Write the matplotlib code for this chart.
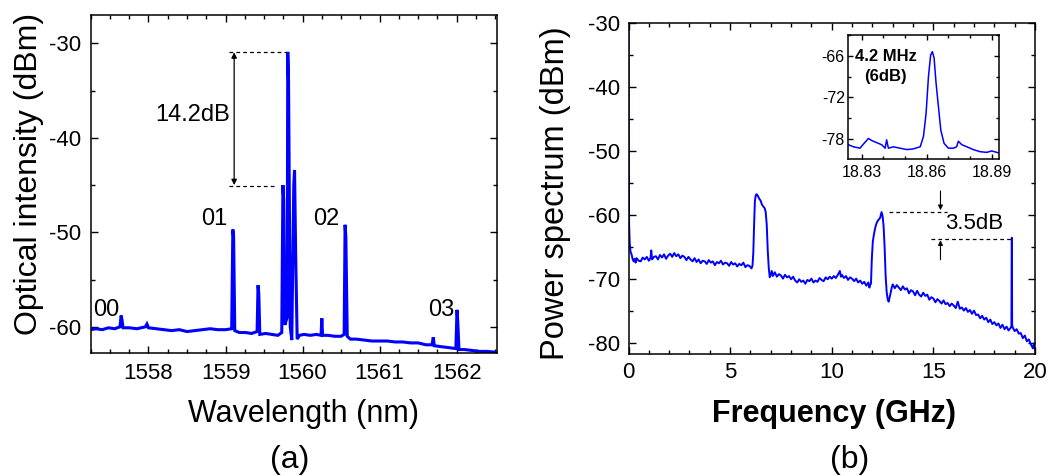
import matplotlib
matplotlib.use("Agg")
import matplotlib.pyplot as plt
from matplotlib.ticker import MultipleLocator

plt.rcParams['font.family'] = ['Liberation Sans', 'DejaVu Sans']
plt.rcParams['axes.unicode_minus'] = False

# ---------------- Panel (a): optical spectrum ----------------
wavelength_nm = [1557.25, 1557.32, 1557.40, 1557.48, 1557.56, 1557.63, 1557.645, 1557.655, 1557.67,
                 1557.75, 1557.85, 1557.96, 1557.98, 1558.00, 1558.10, 1558.20, 1558.30, 1558.40,
                 1558.50, 1558.60, 1558.70, 1558.80, 1558.90, 1559.00, 1559.08, 1559.095, 1559.105,
                 1559.12, 1559.18, 1559.26, 1559.34, 1559.41, 1559.422, 1559.432, 1559.445, 1559.52,
                 1559.60, 1559.68, 1559.73, 1559.745, 1559.755, 1559.77, 1559.80, 1559.808, 1559.818,
                 1559.84, 1559.86, 1559.886, 1559.896, 1559.91, 1559.93, 1559.96, 1560.02, 1560.10,
                 1560.18, 1560.24, 1560.25, 1560.26, 1560.33, 1560.42, 1560.50, 1560.54, 1560.552,
                 1560.562, 1560.58, 1560.62, 1560.70, 1560.80, 1560.90, 1561.00, 1561.10, 1561.20,
                 1561.30, 1561.40, 1561.50, 1561.60, 1561.68, 1561.697, 1561.71, 1561.80, 1561.90,
                 1561.99, 1562.005, 1562.015, 1562.03, 1562.10, 1562.20, 1562.30, 1562.40, 1562.52]
intensity_dbm = [-60.3, -60.2, -60.3, -60.1, -60.2, -60.0, -58.8, -59.2, -60.1,
                 -60.1, -60.2, -60.0, -59.7, -60.1, -60.2, -60.3, -60.4, -60.3,
                 -60.5, -60.4, -60.3, -60.2, -60.3, -60.3, -60.2, -49.7, -50.5,
                 -60.4, -60.6, -60.6, -60.7, -60.5, -55.6, -56.5, -60.8, -60.7,
                 -60.8, -60.9, -60.6, -45.0, -46.5, -59.8, -59.0, -30.9, -34.0,
                 -60.0, -61.4, -45.0, -43.4, -52.0, -61.3, -60.9, -60.8, -60.9,
                 -60.8, -60.9, -59.1, -60.9, -60.9, -61.0, -61.0, -60.8, -49.2,
                 -50.5, -61.0, -61.3, -61.3, -61.4, -61.5, -61.5, -61.5, -61.6,
                 -61.6, -61.7, -61.7, -61.9, -61.9, -61.1, -62.0, -62.1, -62.2,
                 -62.3, -58.2, -59.5, -62.4, -62.4, -62.5, -62.6, -62.6, -62.7]

# ---------------- Panel (b): RF power spectrum ----------------
freq_ghz = [0.00, 0.01, 0.03, 0.06, 0.10, 0.15, 0.20, 0.25, 0.30, 0.35, 0.40, 0.50, 0.60, 0.70, 0.80,
            0.90, 1.00, 1.08, 1.12, 1.16, 1.25, 1.35, 1.45, 1.55, 1.65, 1.75, 1.85, 1.95, 2.05, 2.15,
            2.25, 2.35, 2.45, 2.55, 2.65, 2.75, 2.85, 2.95, 3.05, 3.15, 3.25, 3.35, 3.45, 3.55, 3.65,
            3.75, 3.85, 3.95, 4.05, 4.15, 4.25, 4.35, 4.45, 4.55, 4.65, 4.75, 4.85, 4.95, 5.05, 5.15,
            5.25, 5.35, 5.45, 5.55, 5.65, 5.75, 5.85, 5.95, 6.05, 6.10,
            6.14, 6.18, 6.22, 6.26, 6.30, 6.35, 6.40, 6.45, 6.50, 6.55, 6.60, 6.65, 6.70, 6.75, 6.80,
            6.85, 6.90, 6.95, 7.00, 7.05, 7.10,
            7.2, 7.3, 7.4, 7.5, 7.6, 7.7, 7.8, 7.9, 8.0, 8.1, 8.2, 8.3, 8.4, 8.5, 8.6, 8.7, 8.8, 8.9,
            9.0, 9.1, 9.2, 9.3, 9.4, 9.5, 9.6, 9.7, 9.8, 9.9, 10.0, 10.1, 10.2, 10.3, 10.4, 10.45,
            10.5, 10.6, 10.7, 10.8, 10.9, 11.0, 11.1, 11.2, 11.3, 11.4, 11.5, 11.6, 11.7, 11.8, 11.85,
            11.9,
            11.93, 11.97, 12.02, 12.08, 12.15, 12.22, 12.30, 12.38, 12.45, 12.50, 12.55, 12.60, 12.65,
            12.70, 12.75, 12.80, 12.85, 12.90, 12.95,
            13.0, 13.1, 13.2, 13.3, 13.4, 13.5, 13.6, 13.7, 13.8, 13.9, 14.0, 14.1, 14.2, 14.3, 14.4,
            14.5, 14.6, 14.7, 14.8, 14.9, 15.0, 15.1, 15.2, 15.3, 15.4, 15.5, 15.6, 15.7, 15.8, 15.9,
            16.0, 16.1, 16.2, 16.3, 16.4, 16.5, 16.6, 16.7, 16.8, 16.9, 17.0, 17.1, 17.2, 17.3, 17.4,
            17.5, 17.6, 17.7, 17.8, 17.9, 18.0, 18.1, 18.2, 18.3, 18.4, 18.5, 18.6, 18.7, 18.8, 18.84,
            18.855, 18.865, 18.875, 18.9, 19.0, 19.1, 19.2, 19.3, 19.4, 19.5, 19.6, 19.7, 19.8, 19.9,
            19.95, 20.0]
power_dbm = [-30.0, -48.0, -61.5, -64.5, -65.8, -66.2, -66.9, -67.3, -66.9, -67.5, -66.8, -67.2, -67.3, -66.7, -67.0,
             -66.6, -67.2, -66.8, -65.6, -67.0, -66.6, -66.5, -67.0, -66.3, -66.7, -66.2, -66.9, -66.4, -66.1, -66.6,
             -66.0, -66.5, -66.2, -66.8, -66.4, -66.6, -67.1, -66.6, -67.0, -67.3, -66.8, -67.4, -67.0, -67.6, -67.2,
             -67.3, -67.7, -67.1, -67.5, -67.3, -67.9, -67.4, -67.6, -67.2, -67.8, -67.5, -67.6, -68.0, -67.4, -67.8,
             -67.6, -68.1, -67.7, -67.9, -67.5, -68.2, -67.9, -68.0, -68.4, -68.0,
             -66.0, -61.5, -57.8, -57.0, -56.8, -57.0, -57.3, -57.6, -57.8, -58.3, -58.6, -58.8, -59.0, -59.6, -61.5,
             -65.5, -68.3, -69.8, -69.3, -68.8, -69.6,
             -69.0, -69.7, -69.3, -69.5, -70.0, -69.4, -69.8, -69.6, -70.1, -69.7, -70.3, -70.6, -70.1, -70.5, -70.3, -70.8, -70.2, -70.4,
             -70.0, -70.6, -70.3, -70.5, -69.9, -70.2, -70.4, -69.8, -70.1, -69.7, -70.0, -69.6, -69.9, -69.4, -68.8, -69.7,
             -69.4, -69.9, -69.6, -70.2, -69.8, -70.0, -70.4, -70.0, -70.6, -70.3, -70.8, -70.5, -71.1, -70.6, -71.4,
             -70.9,
             -70.8, -67.0, -64.2, -63.0, -61.9, -61.2, -60.8, -60.5, -59.6, -60.2, -61.8, -65.0, -69.5,
             -72.0, -73.2, -73.6, -72.9, -72.2, -71.4,
             -70.9, -71.5, -71.0, -71.4, -71.8, -71.2, -71.7, -71.5, -72.3, -71.8, -72.0, -72.6, -71.9, -72.5, -72.8,
             -72.2, -72.7, -72.5, -73.3, -72.9, -73.1, -73.7, -73.2, -73.5, -73.9, -73.4, -74.0, -73.8, -74.3, -73.9,
             -74.2, -74.6, -73.6, -74.7, -74.5, -75.0, -74.6, -75.2, -74.9, -75.5, -75.0, -75.7, -75.6, -76.2, -75.8,
             -76.4, -76.1, -76.8, -76.4, -77.1, -76.8, -77.3, -77.0, -77.7, -77.2, -77.9, -77.5, -78.1, -77.7, -77.4,
             -63.6, -63.7, -77.2, -77.6, -78.2, -77.9, -78.6, -78.5, -79.3, -78.9, -79.8, -79.5, -80.3, -80.9,
             -80.1, -81.0]

# ---------------- Inset: zoom of the 18.86 GHz line ----------------
inset_freq_ghz = [18.8238, 18.8262, 18.8292, 18.8308, 18.8331, 18.8346, 18.8369, 18.8392, 18.8408,
                  18.8415, 18.8423, 18.8446, 18.8477, 18.8508, 18.8538, 18.8570, 18.8585, 18.8597,
                  18.8608, 18.8618, 18.8626, 18.8634, 18.8643, 18.8654, 18.8665, 18.8680, 18.8700,
                  18.8723, 18.8738, 18.8746, 18.8762, 18.8785, 18.8815, 18.8846, 18.8877, 18.8900,
                  18.8935]
inset_power_dbm = [-78.8, -79.1, -79.3, -78.7, -77.9, -78.2, -78.5, -78.8, -79.3,
                   -78.1, -79.3, -79.1, -79.3, -79.5, -79.4, -79.1, -77.6, -74.3,
                   -69.0, -65.9, -65.4, -66.3, -69.9, -73.3, -76.7, -78.6, -79.3,
                   -79.3, -79.1, -78.3, -78.8, -79.1, -79.5, -79.8, -79.9, -79.7,
                   -80.0]

W, H = 1050, 476
fig = plt.figure(figsize=(W / 100, H / 100), dpi=100)
BLUE = '#0000ff'
TICK_FS = 16

def style_axes(ax, fs, major_len=5, minor_len=3, pad=6.5):
    for s in ax.spines.values():
        s.set_linewidth(1.1)
    ax.tick_params(which='both', direction='in', top=True, right=True, width=1.0,
                   labelsize=fs, pad=pad)
    ax.tick_params(which='major', length=major_len)
    ax.tick_params(which='minor', length=minor_len)

# Panel (a)
axa = fig.add_axes([90.7 / W, 1 - 353.3 / H, (496.7 - 90.7) / W, (353.3 - 15) / H])
axa.plot(wavelength_nm, intensity_dbm, color=BLUE, lw=2.2, solid_joinstyle='miter')
axa.set_xlim(1557.25, 1562.52)
axa.set_ylim(-62.8, -27.0)
axa.set_xticks([1558, 1559, 1560, 1561, 1562])
axa.set_yticks([-30, -40, -50, -60])
axa.xaxis.set_minor_locator(MultipleLocator(0.25))
axa.yaxis.set_minor_locator(MultipleLocator(5))
style_axes(axa, TICK_FS, pad=7)

dash = (0, (3, 2.5))
axa.plot([1559.05, 1559.79], [-30.9, -30.9], color='black', lw=0.9, ls=dash)
axa.plot([1559.05, 1559.66], [-45.06, -45.06], color='black', lw=0.9, ls=dash)
axa.annotate('', xy=(1559.112, -30.95), xytext=(1559.112, -45.0),
             arrowprops=dict(arrowstyle='<|-|>', color='black', lw=0.9,
                             mutation_scale=8, shrinkA=0, shrinkB=0))
axa.text(1559.06, -37.6, '14.2dB', ha='right', va='center', fontsize=17)
axa.text(1557.45, -58.2, '00', ha='center', va='center', fontsize=17)
axa.text(1558.85, -48.6, '01', ha='center', va='center', fontsize=17)
axa.text(1560.31, -48.6, '02', ha='center', va='center', fontsize=17)
axa.text(1561.80, -58.2, '03', ha='center', va='center', fontsize=17)

# Panel (b)
axb = fig.add_axes([628.5 / W, 1 - 353.5 / H, (1035 - 628.5) / W, (353.5 - 22.7) / H])
axb.plot(freq_ghz, power_dbm, color=BLUE, lw=1.4)
axb.set_xlim(0, 20)
axb.set_ylim(-81.7, -30)
axb.set_xticks([0, 5, 10, 15, 20])
axb.set_yticks([-30, -40, -50, -60, -70, -80])
axb.xaxis.set_minor_locator(MultipleLocator(1))
axb.yaxis.set_minor_locator(MultipleLocator(5))
style_axes(axb, TICK_FS, pad=6)

axb.plot([12.82, 15.67], [-59.6, -59.6], color='black', lw=0.9, ls=dash)
axb.plot([14.86, 18.86], [-63.76, -63.76], color='black', lw=0.9, ls=dash)
axb.annotate('', xy=(15.35, -59.3), xytext=(15.35, -56.3),
             arrowprops=dict(arrowstyle='-|>', color='black', lw=0.8,
                             mutation_scale=7, shrinkA=0, shrinkB=0))
axb.annotate('', xy=(15.35, -64.0), xytext=(15.35, -67.05),
             arrowprops=dict(arrowstyle='-|>', color='black', lw=0.8,
                             mutation_scale=7, shrinkA=0, shrinkB=0))
axb.text(17.0, -61.4, '3.5dB', ha='center', va='center', fontsize=16)

# Inset
axi = fig.add_axes([848.3 / W, 1 - 159.3 / H, (999.3 - 848.3) / W, (159.3 - 35) / H])
axi.plot(inset_freq_ghz, inset_power_dbm, color=BLUE, lw=1.1)
axi.set_xlim(18.8238, 18.8935)
axi.set_ylim(-80.9, -63.0)
axi.set_xticks([18.83, 18.86, 18.89])
axi.set_xticklabels(['18.83', '18.86', '18.89'])
axi.set_yticks([-66, -72, -78])
axi.xaxis.set_minor_locator(MultipleLocator(0.01))
axi.yaxis.set_minor_locator(MultipleLocator(3))
style_axes(axi, 11.5, major_len=3.5, minor_len=2, pad=2.5)
axi.tick_params(axis='x', pad=4)
axi.text(0.25, 0.83, '4.2 MHz', transform=axi.transAxes, ha='center', va='center',
         fontsize=12, fontweight='bold')
axi.text(0.246, 0.67, '(6dB)', transform=axi.transAxes, ha='center', va='center',
         fontsize=12, fontweight='bold')

# Axis labels and panel tags
fig.text(37 / W, 1 - 174 / H, 'Optical intensity (dBm)', rotation=90, rotation_mode='anchor',
         ha='center', va='baseline', fontsize=23)
fig.text(564 / W, 1 - 193 / H, 'Power spectrum (dBm)', rotation=90, rotation_mode='anchor',
         ha='center', va='baseline', fontsize=23.5)
fig.text(304 / W, 1 - 421.7 / H, 'Wavelength (nm)', ha='center', va='baseline', fontsize=22)
fig.text(834 / W, 1 - 421.7 / H, 'Frequency (GHz)', ha='center', va='baseline', fontsize=22,
         fontweight='bold')
fig.text(290 / W, 1 - 468.3 / H, '(a)', ha='center', va='baseline', fontsize=23)
fig.text(850 / W, 1 - 468.3 / H, '(b)', ha='center', va='baseline', fontsize=23)

fig.savefig('out.png', dpi=100)
